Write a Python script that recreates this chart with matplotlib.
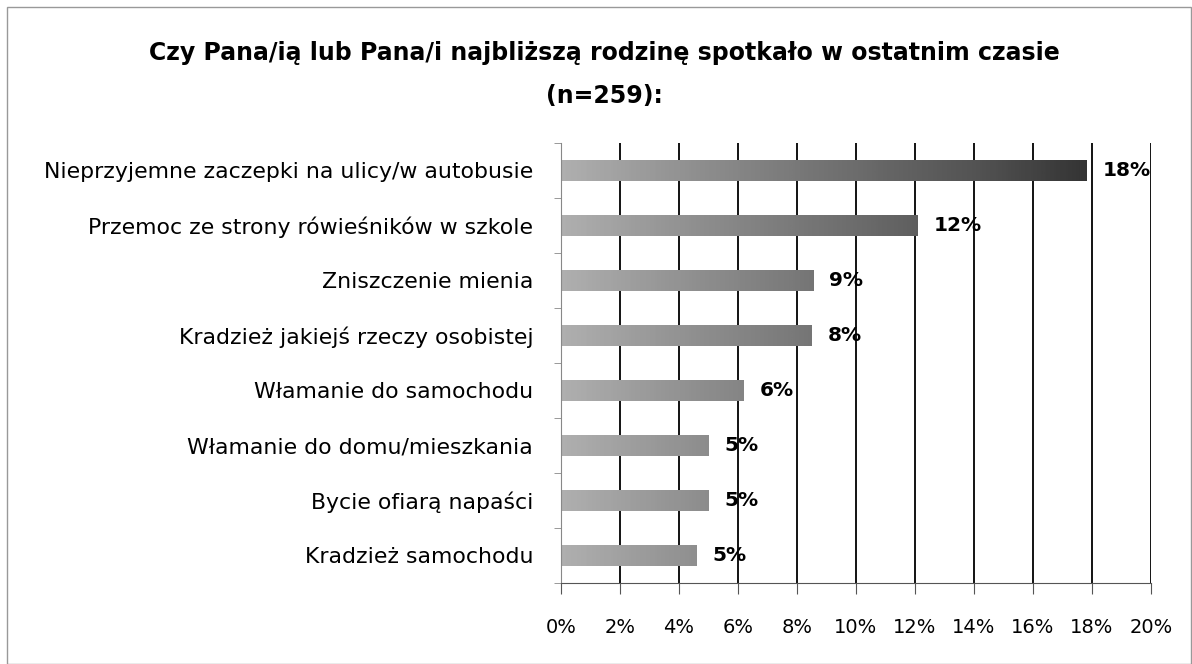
import numpy as np
import matplotlib
matplotlib.use("Agg")
import matplotlib.pyplot as plt
from matplotlib.patches import Rectangle

# -------------------------------------------------------
# Data
# -------------------------------------------------------

categories = [
    "Nieprzyjemne zaczepki na ulicy/w autobusie",
    "Przemoc ze strony rówieśników w szkole",
    "Zniszczenie mienia",
    "Kradzież jakiejś rzeczy osobistej",
    "Włamanie do samochodu",
    "Włamanie do domu/mieszkania",
    "Bycie ofiarą napaści",
    "Kradzież samochodu",
]
values = [17.8, 12.1, 8.55, 8.5, 6.2, 5.0, 5.0, 4.6]
value_labels = ["18%", "12%", "9%", "8%", "6%", "5%", "5%", "5%"]
x_ticks = [0, 2, 4, 6, 8, 10, 12, 14, 16, 18, 20]

title = "Czy Pana/ią lub Pana/i najbliższą rodzinę spotkało w ostatnim czasie\n(n=259):"

# -------------------------------------------------------
# Plot
# -------------------------------------------------------

plt.rcParams["font.family"] = ["DejaVu Sans"]

fig = plt.figure(figsize=(11.92, 6.64), dpi=100)
ax = fig.add_axes([0.4706, 0.122, 0.495, 0.6627])

y = np.arange(len(categories))
bars = ax.barh(y, values, height=0.39, color="none", edgecolor="none", zorder=3)

# grey gradient fill, darker to the right
grad = np.linspace(0.0, 1.0, 256).reshape(1, -1)
for b in bars:
    im = ax.imshow(grad, cmap="Greys", vmin=-0.9, vmax=1.25, aspect="auto",
                   extent=[0, 20, b.get_y() + b.get_height(), b.get_y()],
                   zorder=2, interpolation="bilinear")
    im.set_clip_path(b)

for yi, v, lab in zip(y, values, value_labels):
    ax.text(v + 0.55, yi, lab, va="center", ha="left", fontsize=14.5,
            fontweight="bold", color="black", zorder=4)

ax.set_xlim(0, 20)
ax.set_ylim(len(categories) - 0.5, -0.5)
ax.set_xticks(x_ticks)
ax.set_xticklabels([f"{t}%" for t in x_ticks], fontsize=14)
ax.set_yticks(y)
ax.set_yticklabels(categories, fontsize=15.8)
ax.tick_params(axis="y", length=0, pad=20)
ax.tick_params(axis="x", length=8, color="#555555", pad=17)

# category boundary ticks on left axis
ax.set_yticks(np.arange(-0.5, len(categories), 1), minor=True)
ax.tick_params(axis="y", which="minor", length=5, color="#888888")

for t in x_ticks[1:]:
    ax.axvline(t, color="black", linewidth=1.3, zorder=1)

for s in ["top", "right"]:
    ax.spines[s].set_visible(False)
ax.spines["left"].set_color("#888888")
ax.spines["bottom"].set_color("#555555")

fig.text(0.507, 0.938, title, ha="center", va="top", fontsize=17,
         fontweight="bold", linespacing=2.0)

fig.patches.append(Rectangle((0.006, 0.0), 0.993, 0.99, transform=fig.transFigure,
                             fill=False, edgecolor="#999999", linewidth=1))

fig.savefig("out.png", dpi=100)
